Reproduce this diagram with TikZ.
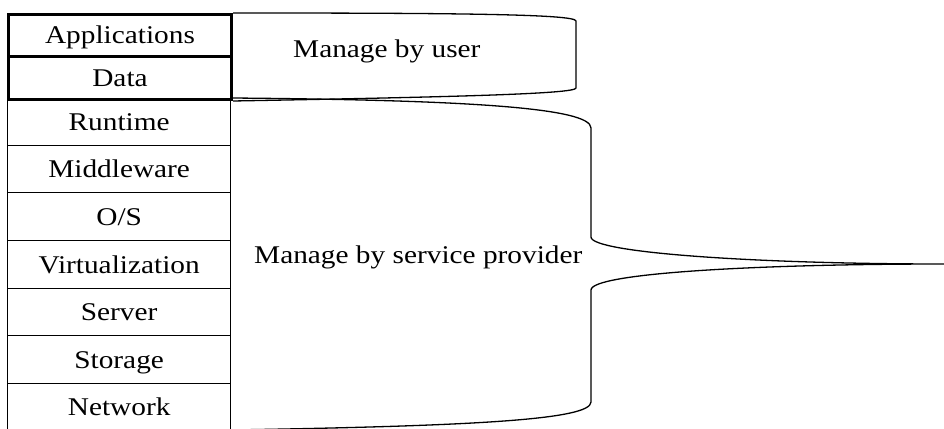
\documentclass[tikz,border=0pt]{standalone}
\usepackage{fontspec}
\setmainfont{Liberation Serif}[FakeStretch=1.15]
\begin{document}
\begin{tikzpicture}[x=1pt,y=-1pt,
  every node/.style={font=\fontsize{25.5}{30}\selectfont},
  layer/.style={draw, line width=1.3pt, minimum width=223pt, inner sep=0pt,
    text height=17pt, text depth=0pt, anchor=north west},
  userlayer/.style={layer, line width=3pt},
  brace/.style={draw, line width=1.3pt},
  caption/.style={anchor=base west, inner sep=0pt}]
\useasboundingbox (0,0) rectangle (944,428);
\clip (0,0) rectangle (944,428);
% provider layers
\node[layer, minimum height=47pt] (runtime) at (7,98) {Runtime};
\node[layer, minimum height=47pt] (middleware) at (7,145) {Middleware};
\node[layer, minimum height=48pt] (os) at (7,192) {O/S};
\node[layer, minimum height=48pt] (virt) at (7,240) {Virtualization};
\node[layer, minimum height=47pt] (server) at (7,288) {Server};
\node[layer, minimum height=48pt] (storage) at (7,335) {Storage};
\node[layer, minimum height=47pt] (network) at (7,383) {Network};
% user layers
\node[userlayer, minimum height=42pt] (apps) at (7,13) {Applications};
\node[userlayer, minimum height=43pt] (data) at (7,55) {Data};
% braces
\coordinate (ubr) at (576,55);
\draw[brace] (apps.north east) .. controls (450,13) and (576,14) .. (576,21)
  -- (576,88) .. controls (576,94) and (450,97) .. (data.south east);
\coordinate (tip) at (944,264);
\draw[brace] (runtime.north east) .. controls (470,100) and (591,108) .. (591,128)
  -- (591,237) .. controls (591,253) and (760,264) .. (tip)
  .. controls (760,264) and (591,273) .. (591,290)
  -- (591,402) .. controls (591,420) and (470,426) .. (230,430);
% captions
\node[caption] (user) at (293,58) {Manage by user};
\node[caption] (provider) at (254,263) {Manage by service provider};
\end{tikzpicture}
\end{document}
